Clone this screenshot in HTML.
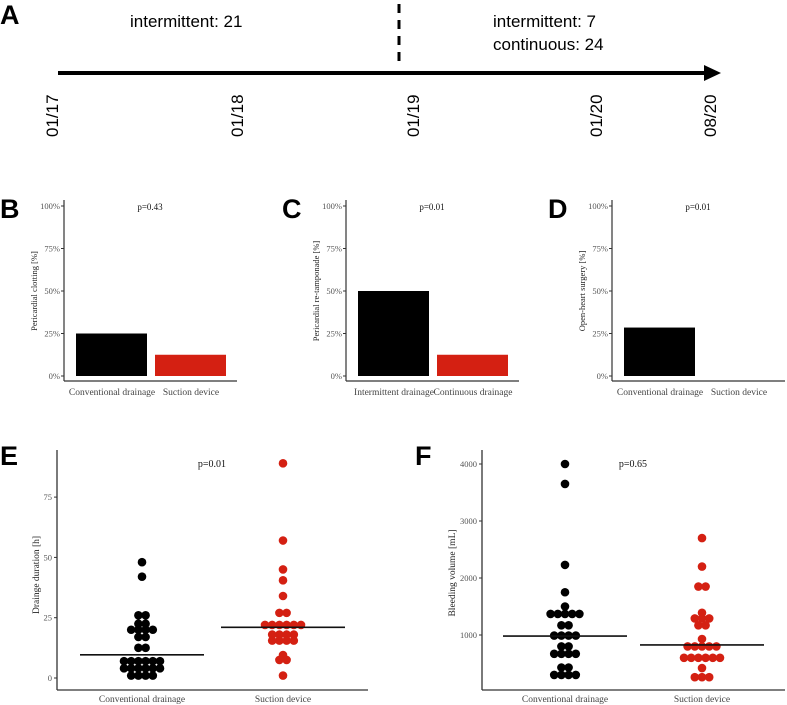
<!DOCTYPE html>
<html><head><meta charset="utf-8">
<style>
html,body{margin:0;padding:0;background:#fff;}
svg{display:block;}
.lbl{font-family:"Liberation Sans",sans-serif;font-weight:bold;font-size:27px;}
.tl{font-family:"Liberation Sans",sans-serif;font-size:17px;}
.dt{font-family:"Liberation Sans",sans-serif;font-size:17px;}
.ser{font-family:"Liberation Serif",serif;}
</style></head>
<body>
<svg id="fig" width="787" height="705" viewBox="0 0 787 705" xmlns="http://www.w3.org/2000/svg">
  <g>
    <text class="lbl" x="0" y="24">A</text>
    <line x1="58" y1="73" x2="706" y2="73" stroke="#000" stroke-width="4"/>
    <polygon points="704,65 721,73 704,81" fill="#000"/>
    <line x1="399" y1="4" x2="399" y2="67" stroke="#000" stroke-width="3" stroke-dasharray="9,7"/>
    <text class="tl" x="130" y="27">intermittent: 21</text>
    <text class="tl" x="493" y="27">intermittent: 7</text>
    <text class="tl" x="493" y="50">continuous: 24</text>
    <text class="dt" transform="translate(58,137) rotate(-90)">01/17</text>
    <text class="dt" transform="translate(243,137) rotate(-90)">01/18</text>
    <text class="dt" transform="translate(419,137) rotate(-90)">01/19</text>
    <text class="dt" transform="translate(602,137) rotate(-90)">01/20</text>
    <text class="dt" transform="translate(716,137) rotate(-90)">08/20</text>
  </g>
  <g id="panels"></g>
</svg>
<script>
const barPanels = ['B','C','D'];
const barCatsB = ['Conventional drainage','Suction device'];
const barCatsC = ['Intermittent drainage','Continuous drainage'];
const barCatsD = ['Conventional drainage','Suction device'];
const barValsB = [25, 12.5];
const barValsC = [50, 12.5];
const barValsD = [28.5, 0];
const barPvals = ['p=0.43','p=0.01','p=0.01'];
const barTitles = ['Pericardial clotting [%]','Pericardial re-tamponade [%]','Open-heart surgery [%]'];
const pctTicks = [0,25,50,75,100];
const pctTickLabels = ['0%','25%','50%','75%','100%'];

const dotCats = ['Conventional drainage','Suction device'];
const durConv = [48,42,26,26,22.5,22.5,20,20,20,20,17,17,12.5,12.5,7,7,7,7,7,7,4,4,4,4,4,4,1,1,1,1];
const durSuct = [89,57,45,40.5,34,27,27,22,22,22,22,22,22,18,18,18,18,15.5,15.5,15.5,15.5,9.5,7.5,7.5,1];
const durMedians = [9.6, 21];
const durTicks = [0,25,50,75];
const volConv = [4000,3650,2230,1750,1500,1370,1370,1370,1370,1370,1170,1170,990,990,990,990,800,800,670,670,670,670,430,430,300,300,300,300];
const volSuct = [2700,2200,1850,1850,1390,1290,1290,1290,1170,1170,930,800,800,800,800,800,600,600,600,600,600,600,420,260,260,260];
const volMedians = [982, 826];
const volTicks = [1000,2000,3000,4000];

const NS='http://www.w3.org/2000/svg';
const root=document.getElementById('panels');
function mk(tag, attrs, parent, text){
  const e=document.createElementNS(NS,tag);
  for(const k in attrs) e.setAttribute(k, attrs[k]);
  if(text!==undefined) e.textContent=text;
  (parent||root).appendChild(e);
  return e;
}

const barCatsAll=[barCatsB,barCatsC,barCatsD];
const barValsAll=[barValsB,barValsC,barValsD];
const barAxisX=[64,346,612];
barPanels.forEach((p,i)=>{
  const g=mk('g',{});
  
  
  const ax=barAxisX[i];
  const y0=376, y100=206;
  const yS=v=>y0-(v/100)*(y0-y100);
  const bx=k=>ax+12+k*79;
  const lab=mk('text',{x:ax-64,y:218,class:'lbl'},g,p);
  
  
  const yl=mk('line',{x1:ax,y1:200,x2:ax,y2:381,stroke:'#333','stroke-width':1.2},g);
  
  
  const xl=mk('line',{x1:ax,y1:381,x2:ax+173,y2:381,stroke:'#333','stroke-width':1.2},g);
  
  
  pctTicks.forEach((t,j)=>{
    const tk=mk('line',{x1:ax-3,y1:yS(t),x2:ax,y2:yS(t),stroke:'#333'},g);
    
    
    const tt=mk('text',{x:ax-4,y:yS(t)+3,'text-anchor':'end','font-size':'8.5',fill:'#555',class:'ser'},g,pctTickLabels[j]);
    
    
  });
  barCatsAll[i].forEach((c,k)=>{
    const v=barValsAll[i][k];
    const r=mk('rect',{x:bx(k),y:yS(v),width:71,height:y0-yS(v),fill:k===0?'#000':'#d42012'},g);
    
    
    const tl=mk('text',{x:bx(k)+36,y:395,'text-anchor':'middle','font-size':'9.5',fill:'#444',class:'ser'},g,c);
    
    
  });
  const pv=mk('text',{x:ax+86,y:210,'text-anchor':'middle','font-size':'9',fill:'#111',class:'ser'},g,barPvals[i]);
  
  
  const yt=mk('text',{transform:`translate(${ax-27},291) rotate(-90)`,'text-anchor':'middle','font-size':'8.5',fill:'#222',class:'ser'},g,barTitles[i]);
  
  
});

function dotPanel(cfg){
  const g=mk('g',{});
  
  
  const yS=v=>cfg.y0-v*cfg.k;
  const lab=mk('text',{x:cfg.lx,y:465,class:'lbl'},g,cfg.label);
  
  
  const yl=mk('line',{x1:cfg.ax,y1:450,x2:cfg.ax,y2:690,stroke:'#333','stroke-width':1.3},g);
  
  
  const xl=mk('line',{x1:cfg.ax,y1:690,x2:cfg.xend,y2:690,stroke:'#333','stroke-width':1.3},g);
  
  
  cfg.ticks.forEach(t=>{
    const tk=mk('line',{x1:cfg.ax-3,y1:yS(t),x2:cfg.ax,y2:yS(t),stroke:'#333'},g);
    
    
    const tt=mk('text',{x:cfg.ax-5,y:yS(t)+3,'text-anchor':'end','font-size':'8.5',fill:'#555',class:'ser'},g,String(t));
    
    
  });
  cfg.series.forEach((vals,si)=>{
    const cx=cfg.cx[si];
    const col=si===0?'#000':'#d42012';
    const groups={};
    vals.forEach(v=>{groups[v]=(groups[v]||0)+1;});
    Object.keys(groups).forEach(key=>{
      const n=groups[key], v=parseFloat(key);
      for(let j=0;j<n;j++){
        const c=mk('circle',{cx:cx+(j-(n-1)/2)*7.2,cy:yS(v),r:4.3,fill:col},g);
        
        
      }
    });
    const tl=mk('text',{x:cx,y:702,'text-anchor':'middle','font-size':'9.5',fill:'#444',class:'ser'},g,dotCats[si]);
    
    
    const md=mk('line',{x1:cx-62,y1:yS(cfg.medians[si]),x2:cx+62,y2:yS(cfg.medians[si]),stroke:'#111','stroke-width':1.6},g);
    
    
  });
  const pv=mk('text',{x:cfg.px,y:467,'text-anchor':'middle','font-size':'10',fill:'#111',class:'ser'},g,cfg.p);
  
  
  const yt=mk('text',{transform:`translate(${cfg.tx},${cfg.ty}) rotate(-90)`,'text-anchor':'middle','font-size':'9.5',fill:'#222',class:'ser'},g,cfg.title);
  
  
}
dotPanel({name:'panel-e-drainage-duration',label:'E',lx:0,ax:57,xend:368,y0:678,k:60.3/25,ticks:durTicks,series:[durConv,durSuct],medians:durMedians,cx:[142,283],px:212,p:'p=0.01',tx:39,ty:575,title:'Drainge duration [h]'});
dotPanel({name:'panel-f-bleeding-volume',label:'F',lx:415,ax:482,xend:785,y0:692,k:57/1000,ticks:volTicks,series:[volConv,volSuct],medians:volMedians,cx:[565,702],px:633,p:'p=0.65',tx:455,ty:573,title:'Bleeding volume [mL]'});
</script>
</body></html>
